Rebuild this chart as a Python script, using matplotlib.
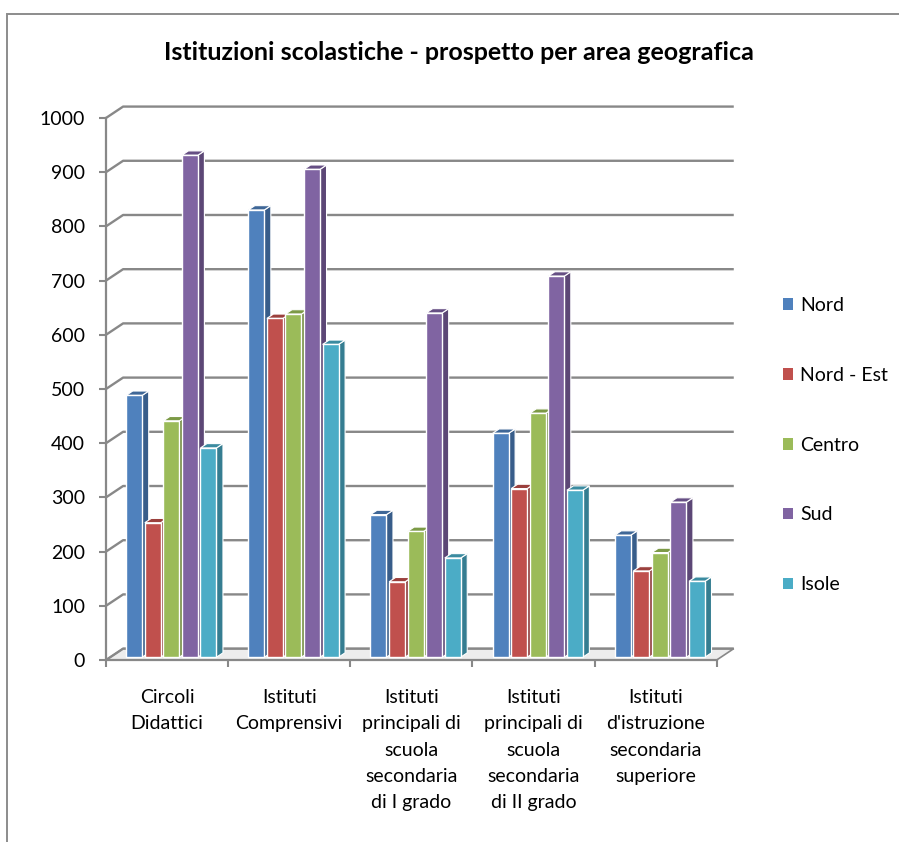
import matplotlib
matplotlib.use("Agg")
import matplotlib.pyplot as plt
from matplotlib.patches import Polygon, Rectangle, Patch

# --- data -------------------------------------------------------------
categories = [
    "Circoli\nDidattici",
    "Istituti\nComprensivi",
    "Istituti\nprincipali di\nscuola\nsecondaria\ndi I grado",
    "Istituti\nprincipali di\nscuola\nsecondaria\ndi II grado",
    "Istituti\nd'istruzione\nsecondaria\nsuperiore",
]
series_names = ["Nord", "Nord - Est", "Centro", "Sud", "Isole"]
nord = [483, 825, 263, 413, 225]
nord_est = [248, 625, 139, 311, 159]
centro = [436, 633, 232, 450, 193]
sud = [926, 900, 635, 703, 286]
isole = [386, 577, 183, 308, 140]
y_ticks = [0, 100, 200, 300, 400, 500, 600, 700, 800, 900, 1000]
title = "Istituzioni scolastiche - prospetto per area geografica"

series_values = [nord, nord_est, centro, sud, isole]

# --- style ------------------------------------------------------------
FONT = "Lato"
front_cols = ["#4F81BD", "#C0504D", "#9BBB59", "#8064A2", "#4BACC6"]
side_cols = ["#385D8A", "#8C3836", "#71893F", "#5C4776", "#357D91"]
top_cols = ["#3F6797", "#9B403D", "#7C9A46", "#664F84", "#3B8BA0"]
grid_col = "#888888"

# pseudo-3D depth vector (category units, value units)
DX, DY = 0.14, 21.0
BAR_FRONT = 0.25   # fraction of depth where bar fronts sit
BAR_DEPTH = 0.38   # fraction of depth taken by each bar
STEP = 0.152       # distance between bars in a group
BW = 0.131         # bar width

fig = plt.figure(figsize=(8.99, 8.42), dpi=100)
fig.patch.set_facecolor("white")
ax = fig.add_axes([106 / 899, (842 - 660) / 842, (735 - 106) / 899, 558.3 / 842])
ax.set_xlim(-0.5, 4.5 + DX + 0.01)
ax.set_ylim(0, 1030)
ax.patch.set_alpha(0)

n_cat = len(categories)

# floor
floor = Polygon([(-0.5, 0), (n_cat - 0.5, 0), (n_cat - 0.5 + DX, DY), (-0.5 + DX, DY)],
                closed=True, facecolor="#ededed", edgecolor=grid_col, lw=1.2, zorder=1)
ax.add_patch(floor)

# back-wall gridlines with diagonal connectors to the value axis
for v in y_ticks:
    ax.plot([-0.5, -0.5 + DX, n_cat - 0.5 + DX], [v, v + DY, v + DY],
            color=grid_col, lw=1.7, solid_capstyle="butt", zorder=2, clip_on=False)

# bars
z = 3
for c in range(n_cat):
    for i, vals in enumerate(series_values):
        v = vals[c]
        x0 = c + (i - 2) * STEP - BW / 2 + BAR_FRONT * DX
        y0 = BAR_FRONT * DY
        ddx, ddy = BAR_DEPTH * DX, BAR_DEPTH * DY
        side = Polygon([(x0 + BW, y0), (x0 + BW + ddx, y0 + ddy),
                        (x0 + BW + ddx, y0 + v + ddy), (x0 + BW, y0 + v)],
                       closed=True, facecolor=side_cols[i], edgecolor="white",
                       lw=0.8, zorder=z)
        top = Polygon([(x0, y0 + v), (x0 + ddx, y0 + v + ddy),
                       (x0 + BW + ddx, y0 + v + ddy), (x0 + BW, y0 + v)],
                      closed=True, facecolor=top_cols[i], edgecolor="white",
                      lw=0.8, zorder=z)
        ax.add_patch(side)
        ax.add_patch(top)
        ax.bar(x0, v, width=BW, bottom=y0, align="edge", color=front_cols[i],
               edgecolor="white", lw=1.0, zorder=z + 0.5)
        z += 1

# axes
for s in ["top", "right"]:
    ax.spines[s].set_visible(False)
ax.spines["left"].set_color(grid_col)
ax.spines["left"].set_linewidth(1.6)
ax.spines["left"].set_bounds(0, 1000)
ax.spines["bottom"].set_color(grid_col)
ax.spines["bottom"].set_linewidth(1.6)
ax.spines["bottom"].set_bounds(-0.5, n_cat - 0.5)

ax.set_yticks(y_ticks)
ax.set_yticklabels([str(v) for v in y_ticks], fontfamily=FONT, fontsize=14)
ax.tick_params(axis="y", direction="out", length=5, width=1.5, color=grid_col, pad=10)

ax.set_xticks([c - 0.5 for c in range(n_cat + 1)])
ax.set_xticklabels([])
ax.tick_params(axis="x", which="major", direction="out", length=5, width=1.5, color=grid_col)
ax.set_xticks(range(n_cat), minor=True)
ax.set_xticklabels(categories, minor=True, fontfamily=FONT, fontsize=14,
                   linespacing=1.66, va="top")
ax.tick_params(axis="x", which="minor", length=0, pad=21)

# title
fig.text(0.510, (842 - 52) / 842, title, ha="center", va="center",
         fontfamily=FONT, fontweight="bold", fontsize=18)

# legend
handles = [Patch(facecolor=col, edgecolor="none") for col in front_cols]
fig.legend(handles, series_names, loc="upper left",
           bbox_to_anchor=(775 / 899, (842 - 289) / 842), frameon=False,
           prop={"family": FONT, "size": 14}, handlelength=0.55, handleheight=0.55,
           handletextpad=0.35, labelspacing=2.72, borderaxespad=0)

# chart-area border
fig.add_artist(Rectangle((7 / 899, -0.1), 1.5, (842 - 14) / 842 + 0.1,
                         transform=fig.transFigure, fill=False,
                         edgecolor="#8c8c8c", lw=1.4, clip_on=False))

fig.savefig("out.png", dpi=100, facecolor="white")
